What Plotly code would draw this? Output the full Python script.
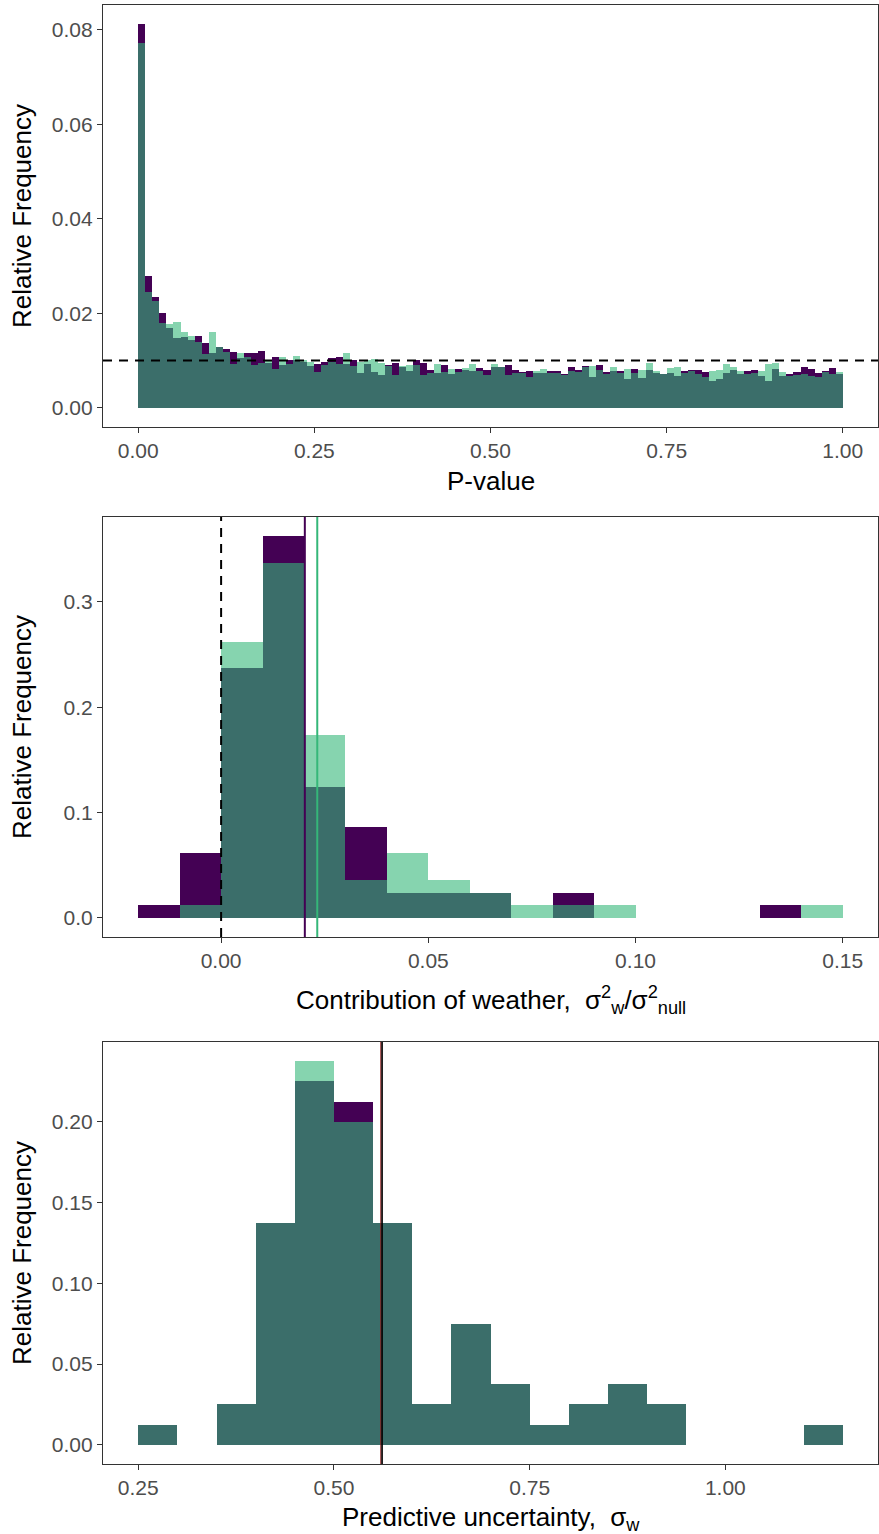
import plotly.graph_objects as go

# ---------------- data ----------------
# Panel 1: P-value histogram, 100 bins of width 0.01 from 0 to 1
pval_bin_width = 0.01
pval_purple = [0.0812, 0.0278, 0.0234, 0.0201, 0.0168, 0.0147, 0.0150, 0.0143, 0.0153, 0.0138,
               0.0117, 0.0128, 0.0124, 0.0119, 0.0105, 0.0117, 0.0115, 0.0121, 0.0094, 0.0108,
               0.0091, 0.0102, 0.0102, 0.0097, 0.0088, 0.0092, 0.0098, 0.0106, 0.0107, 0.0093,
               0.0102, 0.0073, 0.0092, 0.0076, 0.0070, 0.0090, 0.0094, 0.0087, 0.0077, 0.0102,
               0.0095, 0.0080, 0.0074, 0.0090, 0.0072, 0.0083, 0.0079, 0.0078, 0.0084, 0.0081,
               0.0087, 0.0087, 0.0090, 0.0081, 0.0075, 0.0078, 0.0073, 0.0074, 0.0078, 0.0078,
               0.0071, 0.0086, 0.0080, 0.0088, 0.0065, 0.0090, 0.0075, 0.0078, 0.0077, 0.0060,
               0.0083, 0.0064, 0.0080, 0.0074, 0.0072, 0.0073, 0.0067, 0.0078, 0.0079, 0.0081,
               0.0075, 0.0056, 0.0061, 0.0074, 0.0080, 0.0071, 0.0077, 0.0079, 0.0068, 0.0056,
               0.0083, 0.0068, 0.0071, 0.0076, 0.0086, 0.0083, 0.0074, 0.0077, 0.0085, 0.0072]
pval_green = [0.0772, 0.0245, 0.0227, 0.0179, 0.0178, 0.0181, 0.0161, 0.0151, 0.0139, 0.0114,
              0.0161, 0.0129, 0.0119, 0.0092, 0.0117, 0.0107, 0.0090, 0.0094, 0.0102, 0.0083,
              0.0107, 0.0092, 0.0109, 0.0102, 0.0097, 0.0076, 0.0091, 0.0097, 0.0093, 0.0117,
              0.0088, 0.0098, 0.0102, 0.0104, 0.0095, 0.0089, 0.0070, 0.0089, 0.0090, 0.0090,
              0.0069, 0.0074, 0.0092, 0.0075, 0.0083, 0.0076, 0.0084, 0.0092, 0.0078, 0.0070,
              0.0092, 0.0086, 0.0070, 0.0074, 0.0074, 0.0065, 0.0077, 0.0083, 0.0074, 0.0073,
              0.0070, 0.0078, 0.0076, 0.0087, 0.0088, 0.0080, 0.0071, 0.0087, 0.0073, 0.0083,
              0.0073, 0.0080, 0.0094, 0.0078, 0.0071, 0.0085, 0.0086, 0.0074, 0.0078, 0.0071,
              0.0065, 0.0078, 0.0081, 0.0092, 0.0086, 0.0077, 0.0071, 0.0074, 0.0078, 0.0092,
              0.0095, 0.0076, 0.0067, 0.0069, 0.0072, 0.0068, 0.0065, 0.0076, 0.0072, 0.0075]
pval_start = 0.0
pval_reference = 0.01

# Panel 2: contribution of weather, bins of 0.01 from -0.02 to 0.15
contrib_bin_width = 0.01
contrib_start = -0.02
contrib_purple = [0.0118, 0.0616, 0.2375, 0.3624, 0.1242, 0.0865, 0.0240, 0.0240, 0.0240,
                  0.0, 0.0240, 0.0, 0.0, 0.0, 0.0, 0.0118, 0.0]
contrib_green = [0.0, 0.0118, 0.2619, 0.3371, 0.1740, 0.0363, 0.0616, 0.0363, 0.0240,
                 0.0118, 0.0118, 0.0118, 0.0, 0.0, 0.0, 0.0, 0.0118]
contrib_mean_purple = 0.0202
contrib_mean_green = 0.0232
contrib_reference = 0.0

# Panel 3: predictive uncertainty, bins of 0.05 from 0.25 to 1.15
sigma_bin_width = 0.05
sigma_start = 0.25
sigma_purple = [0.0125, 0.0, 0.025, 0.1375, 0.225, 0.2125, 0.1375, 0.025, 0.075,
                0.0375, 0.0125, 0.025, 0.0375, 0.025, 0.0, 0.0, 0.0, 0.0125]
sigma_green = [0.0125, 0.0, 0.025, 0.1375, 0.2375, 0.2, 0.1375, 0.025, 0.075,
               0.0375, 0.0125, 0.025, 0.0375, 0.025, 0.0, 0.0, 0.0, 0.0125]
sigma_mean = 0.561

# ---------------- style ----------------
PURPLE = "#440154"
GREEN_A = "rgba(53,183,121,0.6)"
GREEN = "#35B779"
FONT = "Liberation Sans, Arial, sans-serif"
TICKC = "#4D4D4D"
AXC = "#333333"

fig = go.Figure()


def add_hist(start, width, purple, green, xa, ya):
    centers = [start + width * (i + 0.5) for i in range(len(purple))]
    fig.add_trace(go.Bar(x=centers, y=purple, width=width, marker=dict(color=PURPLE, line=dict(width=0)),
                         xaxis=xa, yaxis=ya, showlegend=False, hoverinfo="x+y"))
    fig.add_trace(go.Bar(x=centers, y=green, width=width, marker=dict(color=GREEN_A, line=dict(width=0)),
                         xaxis=xa, yaxis=ya, showlegend=False, hoverinfo="x+y"))


add_hist(pval_start, pval_bin_width, pval_purple, pval_green, "x", "y")
add_hist(contrib_start, contrib_bin_width, contrib_purple, contrib_green, "x2", "y2")
add_hist(sigma_start, sigma_bin_width, sigma_purple, sigma_green, "x3", "y3")

shapes = [
    dict(type="line", xref="x domain", yref="y", x0=0, x1=1, y0=pval_reference, y1=pval_reference,
         line=dict(color="black", width=2, dash="9px,7px")),
    dict(type="line", xref="x2", yref="y2 domain", x0=contrib_reference, x1=contrib_reference, y0=0, y1=1,
         line=dict(color="black", width=2, dash="9px,7px")),
    dict(type="line", xref="x2", yref="y2 domain", x0=contrib_mean_purple, x1=contrib_mean_purple, y0=0, y1=1,
         line=dict(color=PURPLE, width=2)),
    dict(type="line", xref="x2", yref="y2 domain", x0=contrib_mean_green, x1=contrib_mean_green, y0=0, y1=1,
         line=dict(color=GREEN, width=2)),
    dict(type="line", xref="x3", yref="y3 domain", x0=sigma_mean - 0.001, x1=sigma_mean - 0.001, y0=0, y1=1,
         line=dict(color="#8B1A1A", width=1.2)),
    dict(type="line", xref="x3", yref="y3 domain", x0=sigma_mean + 0.0005, x1=sigma_mean + 0.0005, y0=0, y1=1,
         line=dict(color="black", width=1.6)),
]

axis_common = dict(showline=True, mirror=True, linecolor=AXC, linewidth=1.2, ticks="outside",
                   ticklen=5, tickcolor=AXC, tickwidth=1.2, showgrid=False, zeroline=False,
                   tickfont=dict(family=FONT, size=21, color=TICKC))

H = 1534
B = 70
T = 5
PH = H - B - T


def dom(top_px, bot_px):
    return [(H - B - bot_px) / PH, (H - B - top_px) / PH]


fig.update_layout(
    width=879, height=H,
    margin=dict(l=103, r=1, t=T, b=B),
    paper_bgcolor="white", plot_bgcolor="white",
    barmode="overlay", bargap=0,
    font=dict(family=FONT),
    xaxis=dict(axis_common, anchor="y", domain=[0, 1], range=[-0.05, 1.05],
               tickvals=[0, 0.25, 0.5, 0.75, 1.0], ticktext=["0.00", "0.25", "0.50", "0.75", "1.00"]),
    yaxis=dict(axis_common, anchor="x", domain=dom(5, 427), range=[-0.00406, 0.08526],
               tickvals=[0, 0.02, 0.04, 0.06, 0.08], ticktext=["0.00", "0.02", "0.04", "0.06", "0.08"]),
    xaxis2=dict(axis_common, anchor="y2", domain=[0, 1], range=[-0.0285, 0.1585],
                tickvals=[0, 0.05, 0.10, 0.15], ticktext=["0.00", "0.05", "0.10", "0.15"]),
    yaxis2=dict(axis_common, anchor="x2", domain=dom(517, 937), range=[-0.0181, 0.3805],
                tickvals=[0, 0.1, 0.2, 0.3], ticktext=["0.0", "0.1", "0.2", "0.3"]),
    xaxis3=dict(axis_common, anchor="y3", domain=[0, 1], range=[0.205, 1.195],
                tickvals=[0.25, 0.5, 0.75, 1.0], ticktext=["0.25", "0.50", "0.75", "1.00"]),
    yaxis3=dict(axis_common, anchor="x3", domain=dom(1042, 1464), range=[-0.0119, 0.2494],
                tickvals=[0, 0.05, 0.10, 0.15, 0.20], ticktext=["0.00", "0.05", "0.10", "0.15", "0.20"]),
    shapes=shapes,
)


def ypaper(px):
    return (H - B - px) / PH


def xpaper(px):
    return (px - 103) / 775


ann = []
title_font = dict(family=FONT, size=26, color="black")
for label, ypx in [("Relative Frequency", 216), ("Relative Frequency", 727), ("Relative Frequency", 1253)]:
    ann.append(dict(text=label, xref="paper", yref="paper", x=xpaper(22), y=ypaper(ypx),
                    xanchor="center", yanchor="middle", textangle=-90, showarrow=False, font=title_font))
ann.append(dict(text="P-value", xref="paper", yref="paper", x=xpaper(491), y=ypaper(481),
                xanchor="center", yanchor="middle", showarrow=False, font=title_font))
ann.append(dict(text="Contribution of weather,  σ<sup>2</sup><sub>w</sub>/σ<sup>2</sup><sub>null</sub>",
                xref="paper", yref="paper", x=xpaper(491), y=ypaper(1000),
                xanchor="center", yanchor="middle", showarrow=False, font=title_font))
ann.append(dict(text="Predictive uncertainty,  σ<sub>w</sub>", xref="paper", yref="paper",
                x=xpaper(491), y=ypaper(1518),
                xanchor="center", yanchor="middle", showarrow=False, font=title_font))
fig.update_layout(annotations=ann)

fig.write_html("out.html")
